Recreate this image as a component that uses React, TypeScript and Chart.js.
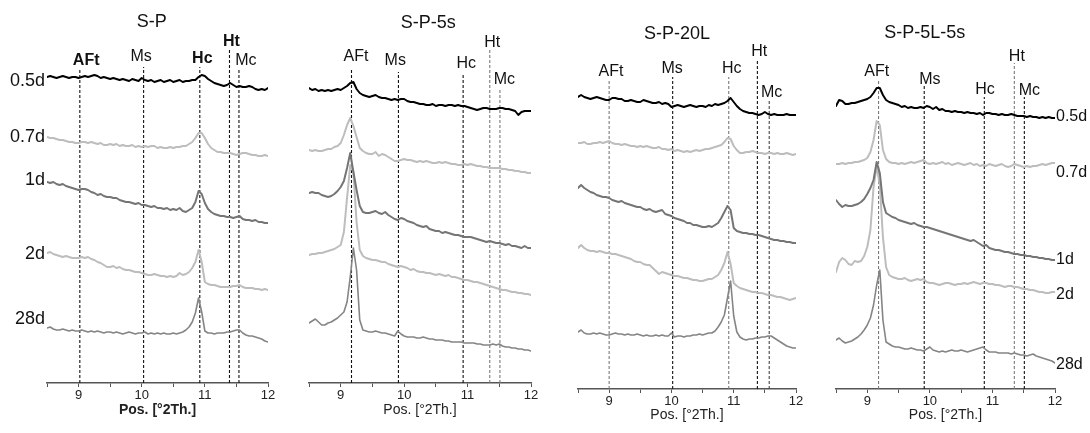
import React, { useEffect, useRef } from 'react';
import { Chart, registerables } from 'chart.js';

Chart.register(...registerables);

// ---------- shared categories ----------
const TWO_THETA = [
  8.5, 8.55, 8.6, 8.65, 8.7, 8.75, 8.8, 8.85, 8.9, 8.95,
  9, 9.05, 9.1, 9.15, 9.2, 9.25, 9.3, 9.35, 9.4, 9.45,
  9.5, 9.55, 9.6, 9.65, 9.7, 9.75, 9.8, 9.85, 9.9, 9.95,
  10, 10.05, 10.1, 10.15, 10.2, 10.25, 10.3, 10.35, 10.4, 10.45,
  10.5, 10.55, 10.6, 10.65, 10.7, 10.75, 10.8, 10.85, 10.9, 10.95,
  11, 11.05, 11.1, 11.15, 11.2, 11.25, 11.3, 11.35, 11.4, 11.45,
  11.5, 11.55, 11.6, 11.65, 11.7, 11.75, 11.8, 11.85, 11.9, 11.95,
  12,
];
const SAMPLE_AGES = ['0.5d', '0.7d', '1d', '2d', '28d'];
const PHASES = ['AFt', 'Ms', 'Hc', 'Ht', 'Mc'];
const X_TICKS = [9, 10, 11, 12];

// ---------- S-P (stacked intensities, a.u.) ----------
const SP_05D = [323,324,323,322,323,324,323,322,323,323, 322,323,324,323,324,325,324,322,323,322, 321,322,321,320,321,320,319,321,320,319, 322,320,319,320,318,319,320,318,319,320, 318,319,320,318,319,319,320,320,323,325, 324,321,319,317,316,315,314,315,317,315, 313,314,313,313,314,313,311,310,311,310, 312];
const SP_07D = [263,262,262,261,260,260,259,258,258,257, 257,258,258,257,258,257,256,257,255,255, 256,255,256,254,255,254,254,255,253,254, 253,254,253,254,254,252,253,252,252,253, 252,253,253,254,254,256,258,262,267,267, 262,256,252,250,248,248,247,247,247,246, 245,246,247,247,246,245,245,244,244,245, 244];
const SP_1D = [218,217,218,216,215,216,214,213,212,211, 210,211,211,210,208,207,205,206,204,203, 203,202,202,200,199,198,198,197,196,197, 195,195,194,193,194,192,192,191,192,190, 191,190,192,189,188,190,192,198,209,206, 197,191,188,186,185,184,184,183,183,182, 183,184,181,180,180,179,180,178,178,177, 177];
const SP_2D = [147,148,146,145,144,143,144,143,142,142, 142,143,142,143,141,140,138,137,135,133, 133,134,132,133,131,130,130,129,128,128, 127,126,125,125,126,125,124,124,123,124, 123,124,127,125,126,128,132,138,150,138, 118,116,115,115,114,113,113,113,113,114, 114,115,113,112,112,112,111,111,110,111, 110];
const SP_28D = [72,73,71,70,70,71,70,69,70,69, 69,70,69,68,69,68,69,68,67,68, 68,67,68,67,66,67,68,67,66,67, 67,68,66,67,66,67,66,67,66,66, 67,66,67,68,70,73,78,87,102,88, 69,67,67,66,67,67,67,68,68,69, 70,70,67,65,64,64,63,62,61,59, 58];
const SP_PHASE_POS = [9.02, 10.03, 10.92, 11.39, 11.54];

// ---------- S-P-5s ----------
const SP5S_05D = [312,310,311,309,310,309,310,309,310,311, 310,312,314,317,318,311,307,305,304,303, 304,305,303,302,302,301,300,301,300,301, 301,299,298,298,297,296,296,295,295,296, 294,295,295,294,295,295,294,295,294,294, 293,292,291,290,291,292,292,291,291,291, 292,292,291,291,290,289,285,288,289,289, 289];
const SP5S_07D = [250,249,250,249,249,250,251,251,253,254, 257,265,275,282,274,263,252,249,247,246, 246,248,244,246,245,243,241,239,239,240, 241,240,240,239,238,239,238,239,238,237, 237,238,237,238,237,236,236,235,235,236, 235,236,235,234,234,233,233,232,232,232, 232,231,231,230,230,229,229,228,228,227, 227];
const SP5S_1D = [207,208,207,207,205,204,203,204,206,209, 213,219,232,247,228,210,194,188,187,187, 188,189,187,186,188,185,183,181,180,182, 181,179,178,177,175,174,173,174,171,170, 169,169,167,168,167,166,165,165,164,163, 163,163,162,161,160,159,158,159,158,157, 157,156,155,156,154,154,153,152,154,152, 152];
const SP5S_2D = [145,146,146,147,147,148,149,150,151,153, 155,168,202,235,228,178,150,144,142,141, 140,140,139,138,138,136,135,134,133,134, 133,132,130,131,129,128,128,127,127,126, 125,126,125,124,125,123,123,122,121,120, 120,119,118,118,117,116,115,114,113,112, 111,110,110,109,108,108,107,107,106,106, 105];
const SP5S_28D = [77,79,81,78,75,75,77,78,80,82, 85,88,98,123,152,130,80,70,69,68, 68,69,68,67,67,66,65,64,69,66, 64,63,63,63,62,62,63,62,61,61, 60,60,60,59,59,58,58,58,58,57, 57,57,57,56,56,55,55,55,56,55, 56,54,53,53,52,52,51,51,50,50, 49];
const SP5S_PHASE_POS = [9.17, 9.91, 10.93, 11.35, 11.51];

// ---------- S-P-20L ----------
const SP20L_05D = [303,305,303,302,301,302,303,302,301,300, 300,302,302,301,301,299,299,300,299,298, 298,300,299,298,297,297,298,296,297,296, 293,294,295,294,293,294,295,294,293,294, 294,293,295,294,296,295,296,297,299,302, 298,294,291,289,288,287,287,286,285,286, 288,286,285,286,285,285,285,286,285,285, 285];
const SP20L_07D = [257,257,258,256,256,257,257,258,257,258, 259,257,256,256,255,256,255,254,254,253, 254,253,254,253,252,252,253,251,251,250, 251,249,250,249,248,249,248,249,250,249, 250,251,251,252,253,254,255,258,262,261, 254,250,247,247,248,248,249,248,247,247, 246,247,247,246,247,246,246,247,246,245, 246];
const SP20L_1D = [212,215,212,210,208,207,205,204,203,203, 202,200,199,198,199,197,196,195,194,193, 193,191,190,191,189,188,189,190,186,185, 184,182,181,180,179,177,177,175,175,174, 173,173,174,173,175,177,182,188,194,190, 172,169,168,167,167,166,166,165,165,164, 163,162,161,160,160,159,159,158,158,157, 157];
const SP20L_2D = [152,155,152,150,149,149,148,149,148,147, 147,146,146,145,144,143,142,141,139,138, 138,136,135,135,132,129,126,128,127,126, 125,124,124,123,122,122,121,120,120,119, 119,120,121,121,123,125,130,137,148,136, 117,114,112,111,110,109,108,108,107,107, 106,105,105,104,103,103,102,101,100,101, 102];
const SP20L_28D = [68,70,67,66,66,67,66,67,66,65, 65,66,67,66,66,65,66,65,65,66, 65,64,65,64,64,65,64,65,64,64, 67,63,64,64,63,64,64,65,65,66, 65,66,67,67,69,73,78,85,102,119, 84,68,63,61,60,61,61,62,62,63, 63,64,64,62,60,58,56,54,53,52, 52];
const SP20L_PHASE_POS = [9.0, 10.02, 10.92, 11.38, 11.57];

// ---------- S-P-5L-5s ----------
const SP5L5S_05D = [294,300,299,296,296,297,297,298,299,300, 301,303,307,312,312,305,300,298,297,296, 295,293,294,292,293,292,292,293,292,294, 293,291,293,290,291,289,289,288,289,288, 288,287,288,287,287,286,287,285,287,287, 286,286,285,286,285,285,286,285,284,284, 284,283,284,283,283,282,283,282,283,282, 282];
const SP5L5S_07D = [236,236,237,236,237,237,238,238,239,240, 242,248,260,279,275,250,241,238,237,237, 236,237,236,237,238,237,238,239,240,237, 236,237,236,237,238,236,237,235,236,237, 236,235,236,237,235,236,234,235,234,236, 235,234,235,236,234,233,234,236,235,234, 233,234,233,234,234,235,236,235,236,237, 237];
const SP5L5S_1D = [200,196,193,195,194,194,195,196,198,201, 206,212,220,238,227,198,187,185,183,182, 180,179,178,177,176,177,175,174,173,173, 172,171,170,169,168,167,166,165,164,163, 162,161,160,159,160,158,156,154,155,152, 151,150,150,149,148,148,147,146,146,145, 145,144,144,143,143,142,142,141,141,140, 140];
const SP5L5S_2D = [128,138,142,140,136,135,139,138,139,144, 153,170,213,234,215,163,133,125,123,122, 121,121,122,120,119,120,121,120,121,118, 117,117,116,115,116,117,117,116,115,116, 116,117,116,117,118,117,116,117,117,116, 116,115,115,114,113,114,114,113,113,112, 111,111,110,110,109,108,108,107,107,108, 108];
const SP5L5S_28D = [60,62,59,57,58,59,61,63,66,70, 75,82,95,115,130,80,58,56,54,53, 53,52,51,51,52,51,50,50,49,51, 53,50,49,48,49,48,49,50,49,49, 50,49,48,49,50,51,52,53,50,48, 48,48,47,47,47,47,46,47,46,45, 45,44,45,46,44,43,42,41,40,39, 37];
const SP5L5S_PHASE_POS = [9.18, 9.91, 10.87, 11.35, 11.51];

// ---------- styles / layout ----------
const FONT = '"Liberation Sans", Arial, Helvetica, sans-serif';
const SERIES_STYLE = [
  { color: '#000000', width: 2 },
  { color: '#bdbdbd', width: 2 },
  { color: '#757575', width: 2 },
  { color: '#bdbdbd', width: 2 },
  { color: '#858585', width: 1.6 },
];
const DARK = '#111111';
const GREY = '#7a7a7a';

type PanelCfg = {
  title: string;
  series: number[][];
  phasePos: number[];
  left: number;
  width: number;
  padLeft: number;
  padRight: number;
  axisH: number;
  yMin: number;
  titleAt: [number, number];
  phaseTop: number[];
  phaseLabelAt: [number, number][];
  phaseColor: string[];
  phaseBold: boolean[];
  ageSide: 'left' | 'right' | 'none';
  ageAt: number[];
  ageFont: number;
  axisTitleBold: boolean;
  axisTitlePad: number;
};

const PANELS: PanelCfg[] = [
  {
    title: 'S-P',
    series: [SP_05D, SP_07D, SP_1D, SP_2D, SP_28D],
    phasePos: SP_PHASE_POS,
    left: 0, width: 290, padLeft: 47, padRight: 22, axisH: 50, yMin: 17,
    titleAt: [10.16, 378],
    phaseTop: [332, 333, 333, 350, 332],
    phaseLabelAt: [[9.12, 339], [9.99, 343], [10.96, 341], [11.42, 358], [11.65, 339]],
    phaseColor: [DARK, DARK, DARK, DARK, DARK],
    phaseBold: [true, false, true, true, false],
    ageSide: 'left', ageAt: [319, 263, 220, 146, 81], ageFont: 18,
    axisTitleBold: true, axisTitlePad: 14,
  },
  {
    title: 'S-P-5s',
    series: [SP5S_05D, SP5S_07D, SP5S_1D, SP5S_2D, SP5S_28D],
    phasePos: SP5S_PHASE_POS,
    left: 290, width: 260, padLeft: 19, padRight: 19, axisH: 50, yMin: 17,
    titleAt: [10.38, 377],
    phaseTop: [332, 328, 327, 350, 310],
    phaseLabelAt: [[9.24, 343], [9.86, 339], [10.98, 336], [11.39, 357], [11.58, 320]],
    phaseColor: [DARK, DARK, DARK, GREY, GREY],
    phaseBold: [false, false, false, false, false],
    ageSide: 'none', ageAt: [], ageFont: 16,
    axisTitleBold: false, axisTitlePad: 14,
  },
  {
    title: 'S-P-20L',
    series: [SP20L_05D, SP20L_07D, SP20L_1D, SP20L_2D, SP20L_28D],
    phasePos: SP20L_PHASE_POS,
    left: 550, width: 265, padLeft: 28, padRight: 19, axisH: 44, yMin: 11,
    titleAt: [10.09, 366],
    phaseTop: [321, 323, 323, 341, 300],
    phaseLabelAt: [[9.03, 328], [10.01, 331], [10.97, 331], [11.41, 348], [11.61, 307]],
    phaseColor: [GREY, DARK, GREY, DARK, '#444444'],
    phaseBold: [false, false, false, false, false],
    ageSide: 'none', ageAt: [], ageFont: 16,
    axisTitleBold: false, axisTitlePad: 9,
  },
  {
    title: 'S-P-5L-5s',
    series: [SP5L5S_05D, SP5L5S_07D, SP5L5S_1D, SP5L5S_2D, SP5L5S_28D],
    phasePos: SP5L5S_PHASE_POS,
    left: 815, width: 275, padLeft: 21, padRight: 35, axisH: 44, yMin: 11,
    titleAt: [9.92, 367],
    phaseTop: [321, 314, 303, 337, 303],
    phaseLabelAt: [[9.15, 328], [10.0, 320], [10.88, 310], [11.39, 343], [11.59, 309]],
    phaseColor: [GREY, DARK, DARK, GREY, DARK],
    phaseBold: [false, false, false, false, false],
    ageSide: 'right', ageAt: [283, 227, 140, 105, 35], ageFont: 16,
    axisTitleBold: false, axisTitlePad: 9,
  },
];

function makeTextPlugin(p: PanelCfg) {
  return {
    id: 'xrdText',
    afterDraw(chart: any) {
      const { ctx, chartArea } = chart;
      const xs = chart.scales.x;
      const ys = chart.scales.y;
      ctx.save();
      ctx.fillStyle = '#111111';
      ctx.textBaseline = 'middle';
      // panel title
      ctx.font = `18px ${FONT}`;
      ctx.textAlign = 'center';
      ctx.fillText(p.title, xs.getPixelForValue(p.titleAt[0]), ys.getPixelForValue(p.titleAt[1]));
      // phase labels
      PHASES.forEach((name, i) => {
        ctx.font = `${p.phaseBold[i] ? 'bold ' : ''}16px ${FONT}`;
        ctx.fillText(name, xs.getPixelForValue(p.phaseLabelAt[i][0]), ys.getPixelForValue(p.phaseLabelAt[i][1]));
      });
      // sample ages
      if (p.ageSide !== 'none') {
        ctx.font = `${p.ageFont}px ${FONT}`;
        ctx.textAlign = p.ageSide === 'left' ? 'right' : 'left';
        const x = p.ageSide === 'left' ? chartArea.left - 2 : chartArea.right + 1;
        SAMPLE_AGES.forEach((age, i) => {
          ctx.fillText(age, x, ys.getPixelForValue(p.ageAt[i]));
        });
      }
      ctx.restore();
    },
  };
}

function buildConfig(p: PanelCfg): any {
  const seriesSets = p.series.map((vals, i) => ({
    label: SAMPLE_AGES[i],
    data: TWO_THETA.map((x, j) => ({ x, y: vals[j] })),
    borderColor: SERIES_STYLE[i].color,
    borderWidth: SERIES_STYLE[i].width,
    pointRadius: 0,
    fill: false,
    tension: 0,
    borderJoinStyle: 'round',
    borderCapStyle: 'round',
  }));
  const phaseSets = p.phasePos.map((x, i) => ({
    label: PHASES[i],
    data: [{ x, y: p.yMin }, { x, y: p.phaseTop[i] }],
    borderColor: p.phaseColor[i],
    borderWidth: 1.1,
    borderDash: [3, 2],
    pointRadius: 0,
    fill: false,
  }));
  return {
    type: 'line',
    data: { datasets: [...seriesSets, ...phaseSets] },
    options: {
      animation: false,
      responsive: false,
      maintainAspectRatio: false,
      layout: { padding: { left: p.padLeft, right: p.padRight, top: 0, bottom: 0 } },
      plugins: { legend: { display: false }, tooltip: { enabled: false }, title: { display: false } },
      scales: {
        x: {
          type: 'linear',
          min: 8.5,
          max: 12,
          border: { display: true, color: '#555555', width: 1.5 },
          grid: { display: true, drawOnChartArea: false, drawTicks: true, tickLength: 4, color: '#555555', lineWidth: 1 },
          ticks: {
            stepSize: 0.5,
            autoSkip: false,
            maxRotation: 0,
            padding: 1,
            color: '#222222',
            font: { family: FONT, size: 13 },
            callback: (v: number) => {
              const hit = X_TICKS.find((t) => Math.abs(t - v) < 1e-6);
              return hit !== undefined ? String(hit) : '';
            },
          },
          title: {
            display: true,
            text: 'Pos. [°2Th.]',
            color: '#222222',
            font: { family: FONT, size: 14, weight: p.axisTitleBold ? 'bold' : 'normal' },
            padding: { top: 0, bottom: p.axisTitlePad },
          },
          afterFit: (s: any) => {
            s.height = p.axisH;
          },
        },
        y: { display: false, min: p.yMin, max: 400 },
      },
    },
    plugins: [makeTextPlugin(p)],
  };
}

function XrdPanel({ panel }: { panel: PanelCfg }) {
  const ref = useRef<HTMLCanvasElement>(null);
  useEffect(() => {
    if (!ref.current) return;
    const chart = new Chart(ref.current, buildConfig(panel));
    return () => chart.destroy();
  }, [panel]);
  return (
    <canvas
      ref={ref}
      width={panel.width}
      height={433}
      style={{ position: 'absolute', left: panel.left, top: 0, width: panel.width, height: 433 }}
    />
  );
}

export default function App() {
  return (
    <div style={{ position: 'absolute', left: 0, top: 0, width: 1090, height: 433, background: '#ffffff', overflow: 'hidden' }}>
      {PANELS.map((p) => (
        <XrdPanel key={p.title} panel={p} />
      ))}
    </div>
  );
}
